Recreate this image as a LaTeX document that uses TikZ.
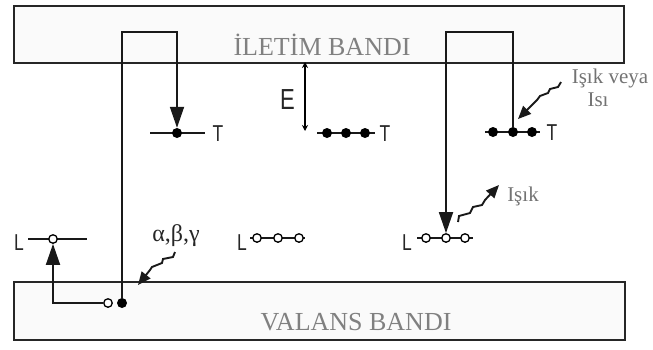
\documentclass[tikz,border=0pt]{standalone}
\usepackage{fontspec}
\usepackage{graphicx}
\setmainfont{Liberation Serif}
\newfontfamily\sansf{Liberation Sans}
\newcommand{\narrowtxt}[1]{\scalebox{0.76}[1]{#1}}
\usetikzlibrary{arrows.meta}
\begin{document}
\begin{tikzpicture}[x=1pt,y=-1pt,
  band/.style={draw=black!85, line width=1.7pt, fill=black!2},
  wire/.style={draw=black!90, line width=1.8pt},
  fdot/.style={circle, fill=black, inner sep=0pt, minimum size=10pt},
  odot/.style={circle, draw=black, line width=1.3pt, fill=white, inner sep=0pt, minimum size=8.5pt},
  lvl/.style={line width=1.5pt, draw=black!90},
  bandtxt/.style={text=black!50, font=\fontsize{26}{26}\selectfont, inner sep=0pt},
  lbl/.style={text=black!55, font=\fontsize{21}{21}\selectfont, inner sep=0pt},
  sym/.style={font=\sansf\fontsize{23}{23}\selectfont, text=black!85, inner sep=0pt},
  bigsym/.style={font=\sansf\fontsize{29}{29}\selectfont, text=black!85, inner sep=0pt},
  bigarrow/.style={-{Triangle[length=21pt,width=14pt]}},
  zig/.style={-{Triangle[length=13pt,width=11pt]}, line width=1.9pt, draw=black!90},
]
\useasboundingbox (0,0) rectangle (653,349);

% bands
\node[band, anchor=north west, minimum width=610pt, minimum height=57pt] (cb) at (13,5) {};
\node[band, anchor=north west, minimum width=611pt, minimum height=58pt] (vb) at (13,281) {};
\node[bandtxt] (cbt) at (322,45) {İLETİM BANDI};
\node[bandtxt] (vbt) at (356,322) {VALANS BANDI};

% ---- left element
\draw[lvl] (150,133) coordinate (tl1a) -- (205,133) coordinate (tl1b);
\node[fdot] (t1) at (177,133) {};
\node[sym] (t1l) at (218,134) {\narrowtxt{T}};
\draw[lvl] (28,239) coordinate (ll1a) -- (87,239) coordinate (ll1b);
\node[odot] (l1) at (53,239) {};
\node[sym] (l1l) at (19,243) {\narrowtxt{L}};
\node[fdot] (d1) at (122,303) {};
\node[odot] (d2) at (108,303) {};
\coordinate (c1) at (122,32);
\coordinate (c2) at (177,32);
\draw[wire,bigarrow] (d1) -- (c1) -- (c2) -- (t1);
\draw[wire,bigarrow] (d2) -| (l1);

% ---- middle element
\node[bigsym] (el) at (287.5,100) {\narrowtxt{E}};
\coordinate (e1) at (305,62);
\coordinate (e2) at (305,131);
\draw[line width=1.2pt, {Stealth[length=6pt,width=6pt]}-{Stealth[length=6pt,width=6pt]}] (e1) -- (e2);
\draw[lvl] (317,133) coordinate (tm1a) -- (375,133) coordinate (tm1b);
\node[fdot] (tm1) at (327,133) {};
\node[fdot] (tm2) at (346,133) {};
\node[fdot] (tm3) at (365,133) {};
\node[sym] (tml) at (385,134) {\narrowtxt{T}};
\draw[lvl] (250,238) coordinate (lm1a) -- (305,238) coordinate (lm1b);
\node[odot] (lm1) at (257,238) {};
\node[odot] (lm2) at (278,238) {};
\node[odot] (lm3) at (299,238) {};
\node[sym] (lml) at (242,243) {\narrowtxt{L}};

% ---- right element
\draw[lvl] (485,132) coordinate (tr1a) -- (540,132) coordinate (tr1b);
\node[fdot] (tr1) at (493,132) {};
\node[fdot] (tr2) at (513,132) {};
\node[fdot] (tr3) at (532,132) {};
\node[sym] (trl) at (552,133) {\narrowtxt{T}};
\draw[lvl] (417,238) coordinate (lr1a) -- (473,238) coordinate (lr1b);
\node[odot] (lr1) at (426,238) {};
\node[odot] (lr2) at (446,238) {};
\node[odot] (lr3) at (465,238) {};
\node[sym] (lrl) at (407,243) {\narrowtxt{L}};
\coordinate (c3) at (446,32);
\coordinate (c4) at (513,32);
\draw[wire,bigarrow] (tr2) -- (c4) -- (c3) -- (lr2);

% ---- zigzag rays
\coordinate (za) at (175,252);
\coordinate (zat) at (138,285);
\draw[zig] (za) -- (173,257) -- (163,259) -- (162,263) -- (152,267) -- (150,270) -- (zat);
\node[text=black!85, font=\fontsize{24}{24}\selectfont, inner sep=0pt] (abg) at (176,236) {α,β,γ};

\coordinate (zb) at (458,222);
\coordinate (zbt) at (499,185);
\draw[zig] (zb) -- (459,216) -- (470,213) -- (473,207) -- (482,205) -- (485,200) -- (zbt);
\node[lbl] (isik) at (523,196) {Işık};

\coordinate (zc) at (561,82);
\coordinate (zct) at (518,119);
\draw[zig] (zc) -- (558,87) -- (550,89) -- (548,93) -- (540,96) -- (537,100) -- (zct);
\node[lbl] (iv1) at (610,78) {Işık veya};
\node[lbl] (iv2) at (598,100) {Isı};
\end{tikzpicture}
\end{document}
